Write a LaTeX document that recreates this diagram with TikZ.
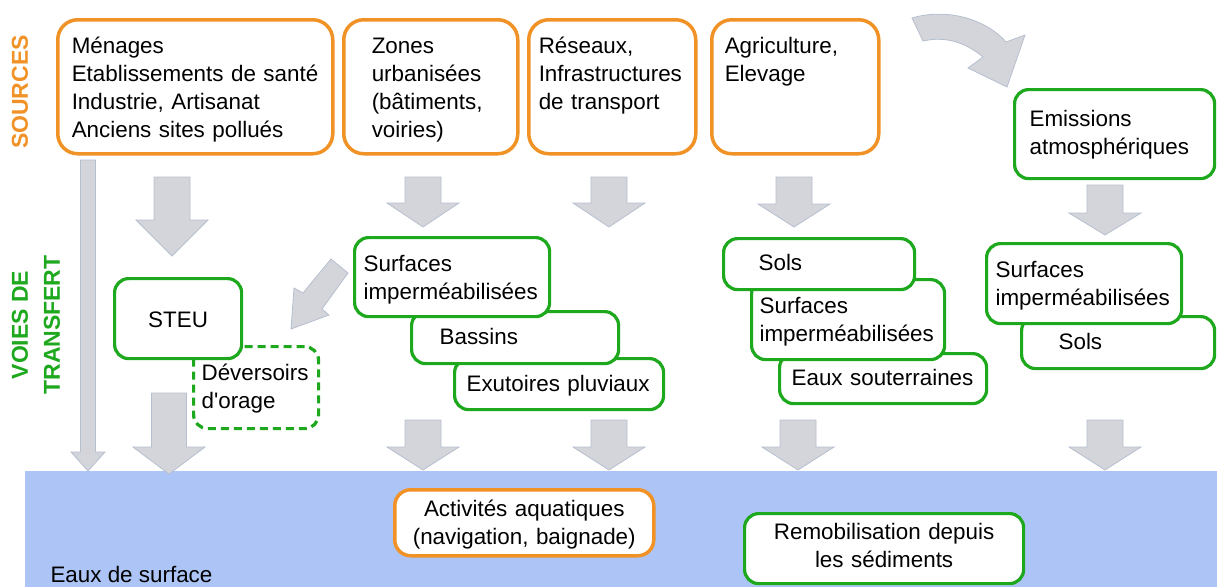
\documentclass[tikz,border=0pt]{standalone}
\usepackage{fontspec}
\setmainfont{Liberation Sans}
\definecolor{srcorange}{RGB}{241,146,38}
\definecolor{trgreen}{RGB}{30,168,30}
\definecolor{flowgray}{RGB}{212,213,218}
\definecolor{flowedge}{RGB}{180,191,207}
\definecolor{surfblue}{RGB}{173,196,246}
\tikzset{
  srcbox/.style={draw=srcorange,line width=3.5pt,rounded corners=20pt,fill=white,anchor=north west,inner ysep=0pt,align=left},
  trbox/.style={draw=trgreen,line width=3.2pt,rounded corners=14pt,fill=white,anchor=north west,inner ysep=0pt,align=left},
  flow/.style={fill=flowgray,draw=flowedge,line width=0.8pt},
  lbl/.style={font=\fontsize{23}{32}\selectfont\bfseries,rotate=90,align=center}
}
\newcommand\flowdown[6]{\filldraw[flow] (#1-#5,#2) -- (#1+#5,#2) -- (#1+#5,#3) -- (#1+#6,#3) -- (#1,#4) -- (#1-#6,#3) -- (#1-#5,#3) -- cycle;}
\begin{document}
\begin{tikzpicture}[x=1pt,y=-1pt,font=\fontsize{22.4}{28}\selectfont]
\useasboundingbox (0,0) rectangle (1217,587);
\fill[surfblue] (25,471) rectangle (1217,587);
\node[anchor=base west] (eaux) at (47,582) {Eaux de surface};
\node[lbl,text=srcorange] (sources) at (20,92) {SOURCES};
\node[lbl,text=trgreen] (voies) at (36,325) {VOIES DE\\TRANSFERT};
\flowdown{88}{160}{452}{471}{7.5}{17}
\flowdown{172}{177}{220}{256}{18}{36}
\flowdown{423}{177}{203}{227}{18}{36}
\flowdown{609}{177}{203}{227}{18}{36}
\flowdown{794}{177}{204}{227}{18}{36}
\flowdown{1105}{185}{213}{235}{18}{36}
\flowdown{169}{393}{447}{474}{17.5}{36}
\flowdown{423}{420}{447}{470}{18}{36}
\flowdown{609}{420}{447}{470}{18}{36}
\flowdown{798}{420}{447}{470}{18}{36}
\flowdown{1105}{420}{447}{470}{18}{36}
\filldraw[flow] (331,259) -- (348,273) -- (322,309) -- (329,315) -- (291,329) -- (294,288) -- (303,293) -- cycle;
\filldraw[flow] (912,18) .. controls (945,8) and (985,18) .. (1006,42) -- (1025,35) -- (1007,87) -- (968,68) -- (983,57) .. controls (965,42) and (945,36) .. (923,41) -- cycle;
\node[srcbox,text width=247pt,inner xsep=14pt,text height=34pt,text depth=100pt] (menages) at (56,18) {M\'enages\\Etablissements de sant\'e\\Industrie, Artisanat\\Anciens sites pollu\'es};
\node[srcbox,text width=118pt,inner xsep=28pt,text height=34pt,text depth=100pt] (zones) at (342,18) {Zones\\urbanis\'ees\\(b\^atiments,\\voiries)};
\node[srcbox,text width=147pt,inner xsep=10pt,text height=34pt,text depth=100pt] (reseaux) at (527,18) {R\'eseaux,\\Infrastructures\\de transport};
\node[srcbox,text width=141pt,inner xsep=13pt,text height=34pt,text depth=100pt] (agri) at (710,18) {Agriculture,\\Elevage};
\node[trbox,text width=170pt,inner xsep=15pt,text height=37pt,text depth=52pt] (emissions) at (1013,88) {Emissions\\atmosph\'eriques};
\node[trbox,dashed,dash pattern=on 8pt off 5pt,text width=109pt,inner xsep=8pt,text height=34pt,text depth=48pt] (deversoirs) at (192,345) {D\'eversoirs\\d\textquotesingle orage};
\node[trbox,align=center,text width=107pt,inner xsep=10pt,text height=49pt,text depth=31pt] (steu) at (113,277) {STEU};
\node[trbox,text width=185pt,inner xsep=12pt,text height=33pt,text depth=18pt] (exutoires) at (453,357) {Exutoires pluviaux};
\node[trbox,text width=151pt,inner xsep=28pt,text height=33pt,text depth=19pt] (bassins) at (410,310) {Bassins};
\node[trbox,text width=177pt,inner xsep=9pt,text height=34pt,text depth=45pt] (surfurb) at (353,236) {Surfaces\\imperm\'eabilis\'ees};
\node[trbox,text width=183pt,inner xsep=12pt,text height=32pt,text depth=18pt] (souterr) at (778,352) {Eaux souterraines};
\node[trbox,text width=177pt,inner xsep=8pt,text height=34pt,text depth=46pt] (surfagri) at (750,278) {Surfaces\\imperm\'eabilis\'ees};
\node[trbox,text width=121pt,inner xsep=35pt,text height=32pt,text depth=19pt] (solsagri) at (722,237) {Sols};
\node[trbox,text width=119pt,inner xsep=37pt,text height=33pt,text depth=19pt] (solsatm) at (1020,315) {Sols};
\node[trbox,text width=177pt,inner xsep=9pt,text height=34pt,text depth=46pt] (surfatm) at (985,242) {Surfaces\\imperm\'eabilis\'ees};
\node[srcbox,rounded corners=16pt,align=center,text width=229pt,inner xsep=15pt,text height=27pt,text depth=39pt] (activites) at (393,488) {Activit\'es aquatiques\\(navigation, baignade)};
\node[trbox,align=center,text width=239pt,inner xsep=20pt,text height=26pt,text depth=44pt] (remob) at (743,512) {Remobilisation depuis\\les s\'ediments};
\end{tikzpicture}
\end{document}
